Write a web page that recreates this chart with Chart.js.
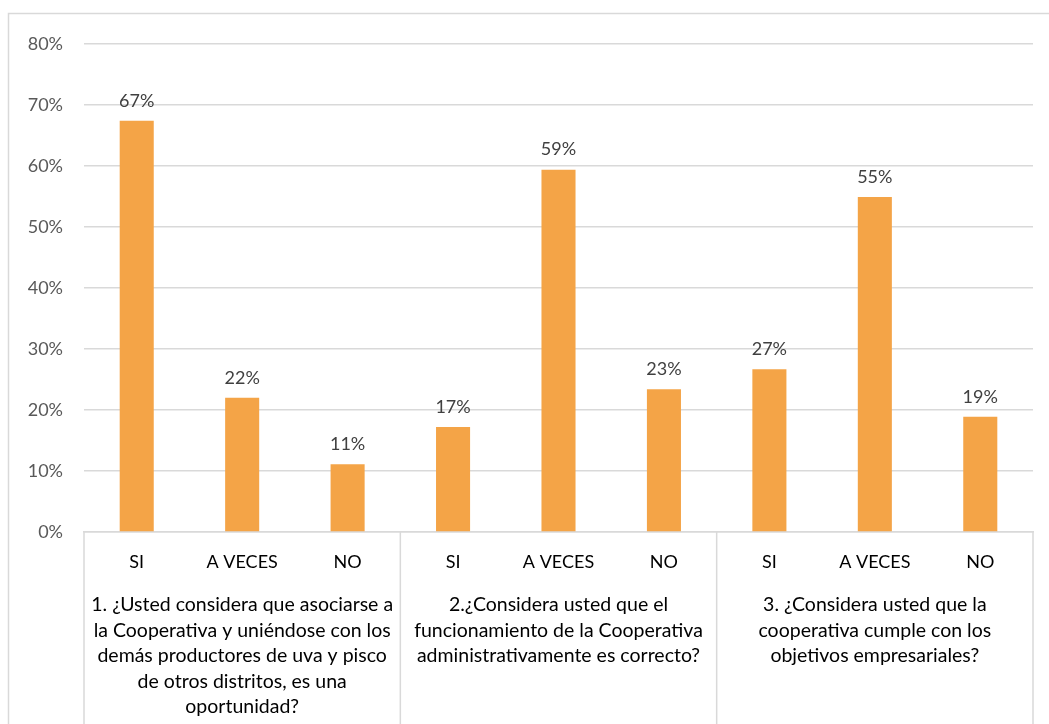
<!DOCTYPE html>
<html>
<head>
<meta charset="utf-8">
<script src="https://cdn.jsdelivr.net/npm/chart.js@4/dist/chart.umd.min.js"></script>
<style>
html,body{margin:0;padding:0;background:#fff;}
canvas{display:block;}
</style>
</head>
<body>
<canvas id="c" width="1049" height="724"></canvas>
<script>
const categories = ["SI","A VECES","NO","SI","A VECES","NO","SI","A VECES","NO"];
const values = [0.674,0.220,0.111,0.172,0.594,0.234,0.267,0.549,0.189];
const groupLabels = [
  ["1. ¿Usted considera que asociarse a","la Cooperativa y uniéndose con los","demás productores de uva y pisco","de otros distritos, es una","oportunidad?"],
  ["2.¿Considera usted que el","funcionamiento de la Cooperativa","administrativamente es correcto?"],
  ["3. ¿Considera usted que la","cooperativa cumple con los","objetivos empresariales?"]
];
const groupSize = 3;
const yTicks = [0,0.1,0.2,0.3,0.4,0.5,0.6,0.7,0.8];

const FONT = "Lato, 'Open Sans', sans-serif";
const GRID = "#d9d9d9";

const decor = {
  id: 'decor',
  beforeDraw(chart){
    const ctx = chart.ctx;
    ctx.save();
    ctx.strokeStyle = GRID;
    ctx.lineWidth = 1.5;
    ctx.strokeRect(8.5, 13.5, 1100, 800);
    ctx.restore();
  },
  afterDatasetsDraw(chart){
    const ctx = chart.ctx;
    const meta = chart.getDatasetMeta(0);
    ctx.save();
    ctx.font = "18px " + FONT;
    ctx.fillStyle = "#404040";
    ctx.textAlign = "center";
    ctx.textBaseline = "bottom";
    meta.data.forEach((bar,i)=>{
      ctx.fillText(Math.round(values[i]*100)+"%", bar.x, bar.y - 11);
    });
    ctx.restore();
  },
  afterDraw(chart){
    const ctx = chart.ctx;
    const xs = chart.scales.x;
    const area = chart.chartArea;
    const slot = xs.getPixelForValue(1) - xs.getPixelForValue(0);
    ctx.save();
    ctx.strokeStyle = GRID;
    ctx.lineWidth = 1.5;
    const nG = groupLabels.length;
    for(let g=0; g<=nG; g++){
      let x = g*groupSize < categories.length ? xs.getPixelForValue(g*groupSize) - slot/2 : xs.getPixelForValue(categories.length-1) + slot/2;
      ctx.beginPath();
      ctx.moveTo(x, area.bottom);
      ctx.lineTo(x, 730);
      ctx.stroke();
    }
    ctx.font = "19.5px " + FONT;
    ctx.fillStyle = "#000000";
    ctx.textAlign = "center";
    ctx.textBaseline = "middle";
    for(let g=0; g<nG; g++){
      const cx = (xs.getPixelForValue(g*groupSize) + xs.getPixelForValue(g*groupSize+groupSize-1))/2;
      groupLabels[g].forEach((line,k)=>{
        ctx.fillText(line, cx, 605 + k*25.5);
      });
    }
    ctx.restore();
  }
};

new Chart(document.getElementById('c'), {
  type: 'bar',
  data: {
    labels: categories,
    datasets: [{
      data: values,
      backgroundColor: '#F4A447',
      borderWidth: 0,
      categoryPercentage: 1,
      barPercentage: 0.323
    }]
  },
  options: {
    responsive: false,
    animation: false,
    devicePixelRatio: 1,
    layout: { autoPadding: false, padding: { top: 44, left: 0, right: 16, bottom: 0 } },
    plugins: { legend: { display: false }, tooltip: { enabled: false } },
    scales: {
      x: {
        afterFit(s){ s.height = 192; },
        grid: { display: false, drawTicks: false },
        border: { color: GRID, width: 1.5 },
        ticks: { color: '#000000', font: { family: FONT, size: 18 }, padding: 19, maxRotation: 0, autoSkip: false }
      },
      y: {
        min: 0, max: 0.8,
        afterFit(s){ s.width = 84; },
        afterBuildTicks(s){ s.ticks = yTicks.map(v=>({value:v})); },
        grid: { color: GRID, lineWidth: 1.5, drawTicks: false },
        border: { display: false },
        ticks: { color: '#595959', font: { family: FONT, size: 18 }, padding: 21,
          callback: v => Math.round(v*100) + '%' }
      }
    }
  },
  plugins: [decor]
});
</script>
</body>
</html>
